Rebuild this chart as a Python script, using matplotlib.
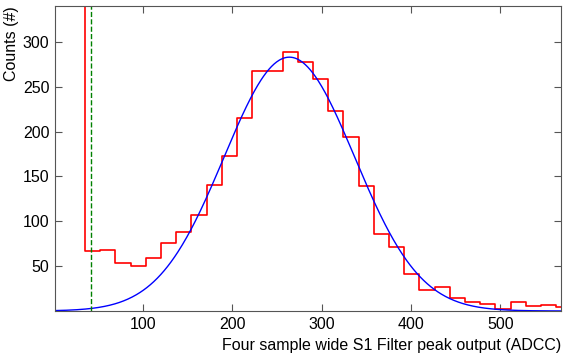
import numpy as np
import matplotlib
matplotlib.use("Agg")
import matplotlib.pyplot as plt

# histogram of the S1 filter peak output (bin width 17 ADCC)
bin_start = 18.4
bin_width = 17.0
counts = [1450, 67, 68, 54, 50, 59, 76, 88, 107, 140, 173, 215, 268, 268,
          289, 278, 259, 223, 194, 139, 86, 71, 41, 23, 27, 15, 10, 8, 2,
          10, 6, 7, 4]

# gaussian fit parameters
fit_amp = 283.0
fit_mu = 264.0
fit_sigma = 73.0

threshold = 42.0

plt.rcParams['font.family'] = ['Liberation Sans', 'DejaVu Sans']
plt.rcParams['font.size'] = 11.5

fig = plt.figure(figsize=(5.68, 3.55), dpi=100)
ax = fig.add_axes([0.097, 0.124, 0.891, 0.859])

edges = bin_start + bin_width * np.arange(len(counts) + 1)
ax.step(edges, np.append(counts, counts[-1]), where='post', color='red', lw=1.2)

x = np.linspace(0, 580, 600)
ax.plot(x, fit_amp * np.exp(-(x - fit_mu) ** 2 / (2 * fit_sigma ** 2)), color='blue', lw=1.0)

ax.axvline(threshold, color='green', ls='--', lw=1.0)

ax.set_xlim(2, 568)
ax.set_ylim(0, 340)
ax.set_xticks([100, 200, 300, 400, 500])
ax.set_yticks([50, 100, 150, 200, 250, 300])
ax.tick_params(direction='in', top=True, right=True, length=5, color='#555555', pad=4)
for s in ax.spines.values():
    s.set_color('#555555')

ax.set_xlabel('Four sample wide S1 Filter peak output (ADCC)', loc='right', labelpad=5)
ax.set_ylabel('Counts (#)', loc='top', labelpad=3)

fig.savefig('out.png', dpi=100)
plt.close(fig)
